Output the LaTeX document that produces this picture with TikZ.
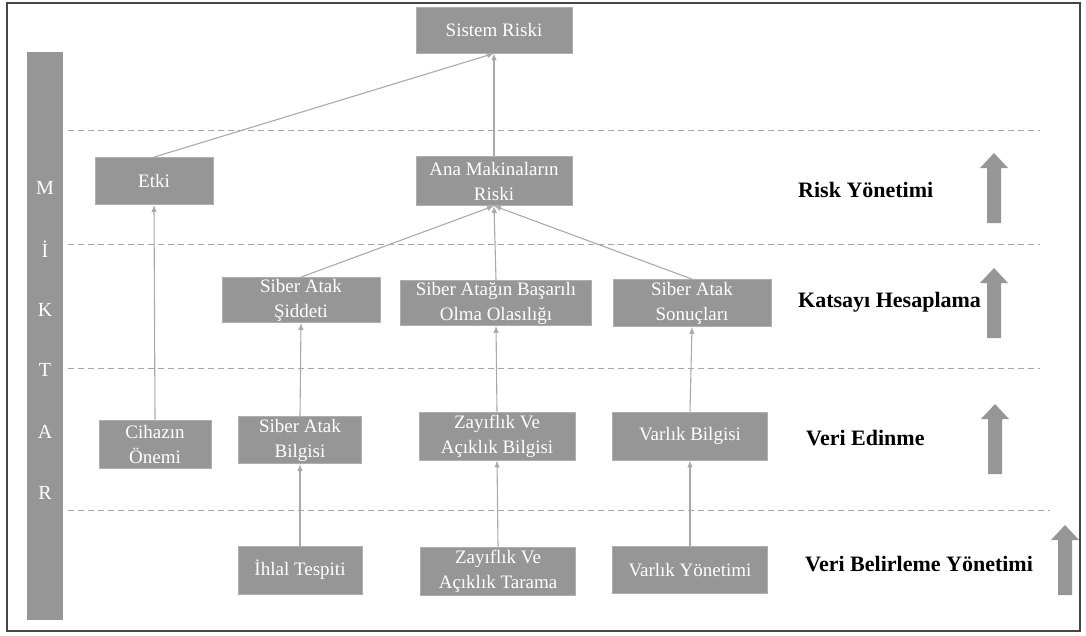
\documentclass[tikz,border=0pt]{standalone}
\usepackage{fontspec}
\setmainfont{Liberation Serif}
\usetikzlibrary{arrows.meta}
\definecolor{boxgray}{RGB}{150,150,150}
\definecolor{edgegray}{RGB}{175,175,175}
\definecolor{linegray}{RGB}{170,170,170}
\definecolor{dashgray}{RGB}{165,165,165}
\definecolor{framegray}{RGB}{70,70,70}
\begin{document}
\begin{tikzpicture}[x=1pt,y=-1pt,
  box/.style={fill=boxgray,draw=edgegray,line width=0.8pt,text=white,
    font=\fontsize{19}{25}\selectfont,align=center,inner sep=0pt},
  link/.style={draw=linegray,line width=1.1pt,-{Latex[length=7pt,width=5.5pt]}},
  layer/.style={draw=dashgray,line width=1pt,dash pattern=on 6pt off 4pt},
  levelname/.style={font=\fontsize{22}{26}\selectfont\bfseries,text=black,inner sep=0pt,anchor=base west},
  sideletter/.style={text=white,font=\fontsize{20}{22}\selectfont,inner sep=0pt},
  uparrow/.pic={\fill[boxgray] (-7,0) -- (-7,-55) -- (-14,-55) -- (0,-70) -- (14,-55) -- (7,-55) -- (7,0) -- cycle;}]
\useasboundingbox (0,0) rectangle (1086,635);
\fill[white] (0,0) rectangle (1086,635);
\draw[framegray,line width=1.2pt] (7,3) rectangle (1080,631);

% side bar
\fill[boxgray] (27,52) rectangle (63,620);
\node[sideletter] (sM) at (45,188) {M};
\node[sideletter] (sI) at (45,249) {İ};
\node[sideletter] (sK) at (45,310) {K};
\node[sideletter] (sT) at (45,370) {T};
\node[sideletter] (sA) at (45,432) {A};
\node[sideletter] (sR) at (45,493) {R};

% layer separators
\draw[layer] (68,130) -- (1040,130);
\draw[layer] (68,244) -- (1040,244);
\draw[layer] (68,368) -- (1040,368);
\draw[layer] (68,510) -- (1050,510);

% boxes
\node[box,minimum width=156pt,minimum height=46pt] (sistem) at (494,30) {Sistem Riski};
\node[box,minimum width=118pt,minimum height=47pt] (etki) at (154,181) {Etki};
\node[box,minimum width=156pt,minimum height=49pt] (ana) at (494,181) {Ana Makinaların\\Riski};
\node[box,minimum width=158pt,minimum height=45pt] (siddet) at (301,300) {Siber Atak\\Şiddeti};
\node[box,minimum width=191pt,minimum height=45pt] (olasilik) at (496,303) {Siber Atağın Başarılı\\Olma Olasılığı};
\node[box,minimum width=158pt,minimum height=47pt] (sonuc) at (692,303) {Siber Atak\\Sonuçları};
\node[box,minimum width=112pt,minimum height=48pt] (cihaz) at (155,444) {Cihazın\\Önemi};
\node[box,minimum width=123pt,minimum height=47pt] (bilgi) at (300,440) {Siber Atak\\Bilgisi};
\node[box,minimum width=156pt,minimum height=48pt] (zayif) at (497,436) {Zayıflık Ve\\Açıklık Bilgisi};
\node[box,minimum width=155pt,minimum height=48pt] (varlik) at (690,436) {Varlık Bilgisi};
\node[box,minimum width=124pt,minimum height=48pt] (ihlal) at (300,570) {İhlal Tespiti};
\node[box,minimum width=155pt,minimum height=48pt] (tarama) at (498,571) {Zayıflık Ve\\Açıklık Tarama};
\node[box,minimum width=155pt,minimum height=47pt] (yonetim) at (690,570) {Varlık Yönetimi};

% connectors
\draw[link] (etki.north) -- (sistem.south);
\draw[link] (ana.north) -- (sistem.south);
\draw[link] (siddet.north) -- (ana.south);
\draw[link] (olasilik.north) -- (ana.south);
\draw[link] (sonuc.north) -- (ana.south);
\draw[link] (cihaz.north) -- (etki.south);
\draw[link] (bilgi.north) -- (siddet.south);
\draw[link] (zayif.north) -- (olasilik.south);
\draw[link] (varlik.north) -- (sonuc.south);
\draw[link] (ihlal.north) -- (bilgi.south);
\draw[link] (tarama.north) -- (zayif.south);
\draw[link] (yonetim.north) -- (varlik.south);

% level names
\node[levelname] (lRisk) at (798,197) {Risk Yönetimi};
\node[levelname] (lKats) at (798,307) {Katsayı Hesaplama};
\node[levelname] (lVeri) at (806,445) {Veri Edinme};
\node[levelname] (lBel) at (805,571) {Veri Belirleme Yönetimi};

% direction arrows
\pic at (994,223) {uparrow};
\pic at (994,338) {uparrow};
\pic at (995,474) {uparrow};
\pic at (1065,595) {uparrow};
\end{tikzpicture}
\end{document}
